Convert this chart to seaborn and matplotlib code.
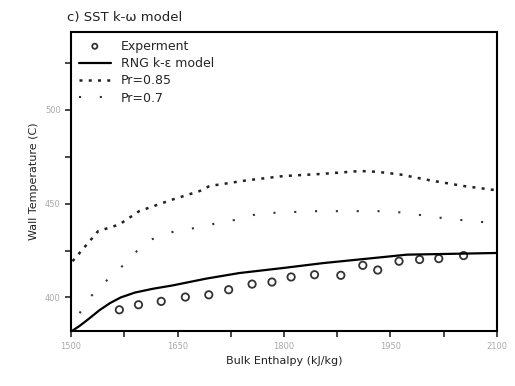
import numpy as np
import pandas as pd
import seaborn as sns
import matplotlib.pyplot as plt
from matplotlib.ticker import MultipleLocator

# experiment points
exp_x = [1568, 1595, 1627, 1661, 1694, 1722, 1755, 1783, 1810, 1843, 1880, 1911, 1932, 1962, 1991, 2018, 2053]
exp_y = [393.4, 396.1, 397.9, 400.2, 401.4, 404.1, 407.1, 408.2, 410.9, 412.1, 411.8, 417.1, 414.6, 419.3, 420.2, 420.7, 422.3]

# RNG k-e model
rng_x = [1500, 1512, 1525, 1540, 1555, 1570, 1590, 1615, 1643, 1690, 1737, 1799, 1855, 1926, 1973, 2100]
rng_y = [381.8, 384.8, 388.6, 393.2, 397.0, 400.0, 402.6, 404.6, 406.4, 410.0, 413.0, 415.7, 418.3, 421.0, 422.8, 423.7]

# Pr=0.85
pr85_x = [1502, 1530, 1538, 1568, 1596, 1643, 1681, 1695, 1747, 1799, 1855, 1907, 1930, 1963, 2006, 2053, 2100]
pr85_y = [419.3, 431.7, 435.3, 438.9, 446.0, 452.2, 456.7, 459.4, 462.4, 464.7, 465.9, 467.4, 467.0, 465.6, 462.4, 459.4, 457.1]

# Pr=0.7
pr7_x = [1512, 1526, 1538, 1549, 1587, 1596, 1613, 1646, 1676, 1707, 1735, 1768, 1801, 1829, 1862, 1893, 1921, 1949, 1982, 2013, 2039, 2071, 2100]
pr7_y = [391.6, 399.6, 405.0, 408.6, 421.9, 426.4, 430.9, 435.3, 437.1, 439.7, 441.6, 445.1, 445.1, 446.0, 446.0, 446.0, 446.0, 446.0, 444.5, 442.8, 441.6, 440.6, 439.2]

sns.set_style("ticks")
plt.rcParams['font.family'] = ['DejaVu Sans']

fig = plt.figure(figsize=(5.15, 3.86), dpi=100)
ax = fig.add_axes([0.138, 0.142, 0.827, 0.775])

sns.scatterplot(x=exp_x, y=exp_y, ax=ax, marker='o', s=28, facecolor='none',
                edgecolor='#333333', linewidth=1.3, label='Experment')
sns.lineplot(x=rng_x, y=rng_y, ax=ax, color='black', linewidth=1.6, label='RNG k-ε model')
sns.lineplot(x=pr85_x, y=pr85_y, ax=ax, color='#222222', linewidth=1.8,
             linestyle=(0, (1.2, 2.5)), label='Pr=0.85')
sns.lineplot(x=pr7_x, y=pr7_y, ax=ax, color='#333333', linewidth=1.5,
             linestyle=(0, (1, 9)), label='Pr=0.7')

ax.set_xlim(1500, 2100)
ax.set_ylim(382, 541.5)
ax.set_xticks([1500, 1650, 1800, 1950, 2100])
ax.set_yticks([400, 450, 500])
ax.xaxis.set_minor_locator(MultipleLocator(75))
ax.yaxis.set_minor_locator(MultipleLocator(25))
ax.tick_params(which='both', direction='out', length=4, width=1.2, labelsize=6, labelcolor='#aaaaaa')
for s in ax.spines.values():
    s.set_visible(True)
    s.set_linewidth(1.5)
    s.set_color('black')

ax.set_xlabel('Bulk Enthalpy (kJ/kg)', fontsize=8, color='#222222')
ax.set_ylabel('Wall Temperature (C)', fontsize=8, color='#222222')
fig.text(0.13, 0.955, 'c) SST k-ω model', fontsize=9.5, color='#222222', ha='left', va='center')

leg = ax.legend(loc='upper left', frameon=False, fontsize=9, handlelength=2.6,
                borderaxespad=0.2, labelspacing=0.35, markerscale=0.7)

plt.savefig('out.png', dpi=100)
